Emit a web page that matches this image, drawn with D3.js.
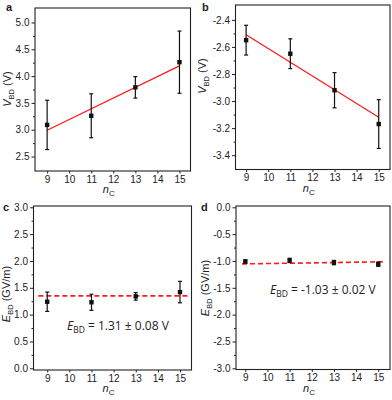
<!DOCTYPE html>
<html>
<head>
<meta charset="utf-8">
<script src="https://cdn.jsdelivr.net/npm/d3@7"></script>
<style>
  body { margin: 0; background: #fff; }
  svg { display: block; }
  text { font-family: "Liberation Sans", Arial, sans-serif; fill: #222; }
</style>
</head>
<body>
<div id="chart"></div>
<script>
// data
const nC = [9, 11, 13, 15];
const xTicks = [9, 10, 11, 12, 13, 14, 15];

const vbdPos = [3.09, 3.26, 3.79, 4.26];
const vbdPosErr = [0.46, 0.41, 0.20, 0.58];
const vbdPosFit = [2.99, 4.19];

const vbdNeg = [-2.55, -2.65, -2.92, -3.17];
const vbdNegErr = [0.11, 0.11, 0.13, 0.18];
const vbdNegFit = [-2.51, -3.12];

const ebdPos = [1.24, 1.23, 1.34, 1.42];
const ebdPosErr = [0.18, 0.15, 0.07, 0.20];
const ebdPosMean = [1.35, 1.35];

const ebdNeg = [-1.01, -0.99, -1.03, -1.06];
const ebdNegErr = [0.03, 0.04, 0.04, 0.04];
const ebdNegMean = [-1.055, -1.015];

const yTicksA = [2.5, 3.0, 3.5, 4.0, 4.5, 5.0];
const yTicksB = [-3.4, -3.2, -3.0, -2.8, -2.6, -2.4];
const yTicksC = [0.0, 0.5, 1.0, 1.5, 2.0, 2.5, 3.0];
const yTicksD = [-3.0, -2.5, -2.0, -1.5, -1.0, -0.5, 0.0];

const svg = d3.select("#chart").append("svg")
    .attr("width", 392)
    .attr("height", 400);

const fmt = (d) => d.toFixed(1).replace("\u2212", "-");

function drawPanel(opt) {
    const g = svg.append("g");
    const x = d3.scaleLinear().domain(opt.xDomain).range([opt.box[0], opt.box[1]]);
    const y = d3.scaleLinear().domain(opt.yDomain).range([opt.box[3], opt.box[2]]);

    // minor y ticks (halfway between majors)
    const minor = [];
    for (let i = 0; i < opt.yTicks.length - 1; i++) {
        minor.push((opt.yTicks[i] + opt.yTicks[i + 1]) / 2);
    }
    g.append("g")
        .attr("transform", `translate(${opt.box[0]},0)`)
        .call(d3.axisLeft(y).tickValues(minor).tickSize(2).tickFormat(""))
        .call((a) => a.select(".domain").remove());

    const yAxis = g.append("g")
        .attr("transform", `translate(${opt.box[0]},0)`)
        .call(d3.axisLeft(y).tickValues(opt.yTicks).tickSize(3.5).tickPadding(2).tickFormat(fmt));
    yAxis.select(".domain").remove();
    yAxis.selectAll("text").style("font-size", "10px").style("font-family", "Liberation Sans, Arial");

    const xAxis = g.append("g")
        .attr("transform", `translate(0,${opt.box[3]})`)
        .call(d3.axisBottom(x).tickValues(xTicks).tickSize(2.5).tickPadding(2).tickFormat(d3.format("d")));
    xAxis.select(".domain").remove();
    xAxis.selectAll("text").style("font-size", "10px").style("font-family", "Liberation Sans, Arial");

    g.selectAll(".tick line").attr("stroke", "#222");

    // frame
    g.append("rect")
        .attr("x", opt.box[0])
        .attr("y", opt.box[2])
        .attr("width", opt.box[1] - opt.box[0])
        .attr("height", opt.box[3] - opt.box[2])
        .attr("fill", "none")
        .attr("stroke", "#222")
        .attr("stroke-width", 1.1);

    // fit / mean line
    g.append("line")
        .attr("x1", x(opt.lineX[0]))
        .attr("x2", x(opt.lineX[1]))
        .attr("y1", y(opt.lineY[0]))
        .attr("y2", y(opt.lineY[1]))
        .attr("stroke", "#ff1a1a")
        .attr("stroke-width", opt.dashed ? 1.6 : 1.3)
        .attr("stroke-dasharray", opt.dashed ? "5,3" : null);

    // error bars
    const pts = nC.map((n, i) => ({ n: n, v: opt.values[i], e: opt.errors[i] }));
    const eb = g.selectAll(".eb").data(pts).enter().append("g");
    eb.append("line")
        .attr("x1", (d) => x(d.n)).attr("x2", (d) => x(d.n))
        .attr("y1", (d) => y(d.v - d.e)).attr("y2", (d) => y(d.v + d.e))
        .attr("stroke", "#111").attr("stroke-width", 1.2);
    [-1, 1].forEach((s) => {
        eb.append("line")
            .attr("x1", (d) => x(d.n) - 2).attr("x2", (d) => x(d.n) + 2)
            .attr("y1", (d) => y(d.v + s * d.e)).attr("y2", (d) => y(d.v + s * d.e))
            .attr("stroke", "#111").attr("stroke-width", 1.2);
    });
    eb.append("rect")
        .attr("x", (d) => x(d.n) - 2.2)
        .attr("y", (d) => y(d.v) - 2.2)
        .attr("width", 4.4)
        .attr("height", 4.4)
        .attr("fill", "#111");

    // panel letter
    svg.append("text")
        .attr("x", opt.letterPos[0])
        .attr("y", opt.letterPos[1])
        .style("font-size", "11px")
        .style("font-weight", "bold")
        .text(opt.letter);

    // x title
    const xt = svg.append("text")
        .attr("x", (opt.box[0] + opt.box[1]) / 2 - 10)
        .attr("y", opt.box[3] + 22)
        .style("font-size", "11px");
    xt.append("tspan").style("font-style", "italic").text("n");
    xt.append("tspan").attr("dy", 3).style("font-size", "8px").text("C");

    // y title
    const yt = svg.append("text")
        .attr("transform", `translate(${opt.yTitlePos[0]},${opt.yTitlePos[1]}) rotate(-90)`)
        .attr("text-anchor", "middle")
        .style("font-size", "11px");
    yt.append("tspan").style("font-style", "italic").text(opt.yVar);
    yt.append("tspan").attr("dy", 3).style("font-size", "7.5px").text("BD");
    yt.append("tspan").attr("dy", -3).text(" " + opt.yUnit);

    if (opt.note) {
        const t = svg.append("text")
            .attr("x", opt.note.pos[0])
            .attr("y", opt.note.pos[1])
            .style("font-family", "Open Sans, sans-serif")
            .style("font-size", "12px");
        t.append("tspan").style("font-style", "italic").text("E");
        t.append("tspan").attr("dy", 3).style("font-size", "8.5px").text("BD");
        t.append("tspan").attr("dy", -3).text(" = " + opt.note.text);
    }
}

drawPanel({
    letter: "a", letterPos: [6, 11],
    box: [35, 190.5, 8, 171],
    xDomain: [8.45, 15.5], yDomain: [2.23, 5.27],
    yTicks: yTicksA, values: vbdPos, errors: vbdPosErr,
    lineX: [9, 15], lineY: vbdPosFit, dashed: false,
    yVar: "V", yUnit: "(V)", yTitlePos: [11, 89]
});

drawPanel({
    letter: "b", letterPos: [202, 11],
    box: [235.5, 390, 5, 169.5],
    xDomain: [8.52, 15.51], yDomain: [-3.506, -2.29],
    yTicks: yTicksB, values: vbdNeg, errors: vbdNegErr,
    lineX: [9, 15], lineY: vbdNegFit, dashed: false,
    yVar: "V", yUnit: "(V)", yTitlePos: [206, 76]
});

drawPanel({
    letter: "c", letterPos: [3, 211],
    box: [33.5, 191.5, 206, 370],
    xDomain: [8.38, 15.52], yDomain: [-0.032, 3.024],
    yTicks: yTicksC, values: ebdPos, errors: ebdPosErr,
    lineX: [8.6, 15.4], lineY: ebdPosMean, dashed: true,
    yVar: "E", yUnit: "(GV/m)", yTitlePos: [10, 294],
    note: { pos: [67, 330], text: "1.31 \u00b1 0.08 V" }
});

drawPanel({
    letter: "d", letterPos: [201, 211],
    box: [236, 390, 206, 369.5],
    xDomain: [8.58, 15.53], yDomain: [-3.022, 0.024],
    yTicks: yTicksD, values: ebdNeg, errors: ebdNegErr,
    lineX: [8.85, 15.3], lineY: ebdNegMean, dashed: true,
    yVar: "E", yUnit: "(GV/m)", yTitlePos: [209, 288],
    note: { pos: [270, 294], text: "-1.03 \u00b1 0.02 V" }
});
</script>
</body>
</html>
